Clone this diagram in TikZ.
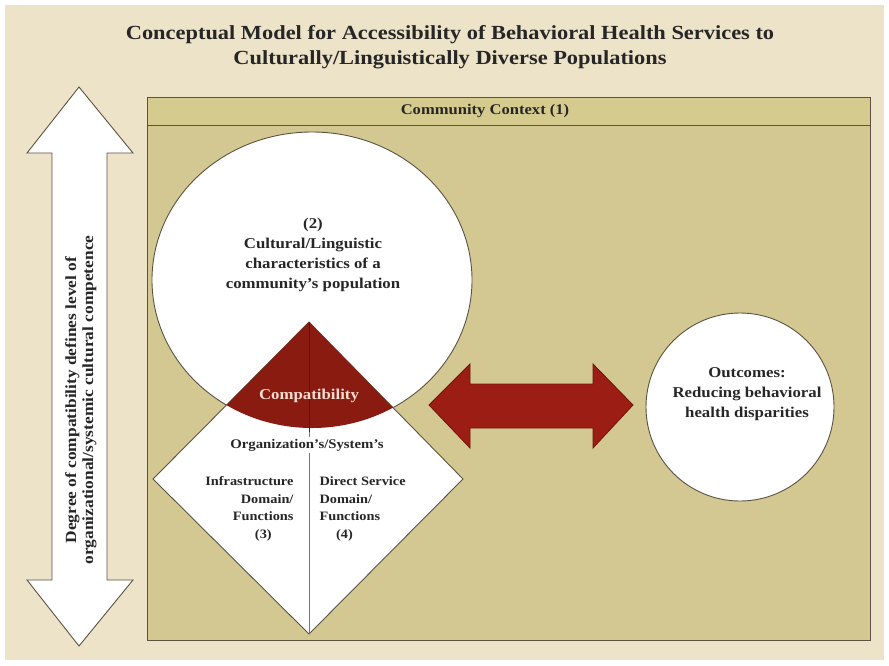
\documentclass[tikz,border=0pt]{standalone}
\usepackage{fontspec}
\setmainfont{Liberation Serif}[FakeStretch=1.12]
\usetikzlibrary{calc}

\definecolor{pagebeige}{HTML}{EDE3C8}
\definecolor{khaki}{HTML}{D3C891}
\definecolor{khakihead}{HTML}{D6CB8E}
\definecolor{compred}{HTML}{8A1B10}
\definecolor{arrowred}{HTML}{9C1D13}
\definecolor{edgegrey}{HTML}{5B5242}
\definecolor{inkgrey}{HTML}{262626}
\definecolor{palepink}{HTML}{F6DED2}

\tikzset{
  outline/.style={draw=edgegrey, line width=0.9pt},
  boldtext/.style={font=\bfseries, text=inkgrey, align=center},
  titletext/.style={boldtext, font=\fontsize{20}{25}\selectfont\bfseries},
  circletext/.style={boldtext, font=\fontsize{15}{20}\selectfont\bfseries},
  smalltext/.style={boldtext, font=\fontsize{12.8}{17.5}\selectfont\bfseries}
}

\begin{document}
\begin{tikzpicture}[x=1pt, y=-1pt]
            \useasboundingbox (0,0) rectangle (889,665);
            \fill[white] (0,0) rectangle (889,665);
            \fill[pagebeige] (5,5) rectangle (884,660);

            \node[titletext] (title) at (450,47) {Conceptual Model for Accessibility of Behavioral Health Services to\\Culturally/Linguistically Diverse Populations};

            % degree of compatibility arrow
            \filldraw[fill=white, outline] (79,87) -- (133,153) -- (107,153) -- (107,580) -- (133,580)
                -- (79,646) -- (27,580) -- (52,580) -- (52,153) -- (27,153) -- cycle;
            \node[smalltext, rotate=90, font=\fontsize{15.5}{17}\selectfont\bfseries] (degree) at (81,400)
                {Degree of compatibility defines level of\\organizational/systemic cultural competence};

            % community context box
            \filldraw[fill=khaki, outline] (147,97) rectangle (870,640);
            \filldraw[fill=khakihead, outline] (147,97) rectangle (870,125);
            \node[smalltext, font=\fontsize{14.8}{16}\selectfont\bfseries] (context) at (485,111) {Community Context (1)};

            % population circle and organization diamond
            \filldraw[fill=white, outline] (312,280) ellipse [x radius=160, y radius=148];
            \filldraw[fill=white, outline] (309,322) -- (463,479) -- (309,634) -- (153,479) -- cycle;
            \begin{scope}
              \clip (309,322) -- (463,479) -- (309,634) -- (153,479) -- cycle;
              \fill[compred] (312,280) ellipse [x radius=160, y radius=148];
            \end{scope}
            \draw[compred!70!black, line width=0.8pt] (309,322) -- (309,432);
            \draw[edgegrey!80, line width=0.9pt] (309,432) -- (309,634);

            \node[circletext] (population) at (313,255)
                {(2)\\Cultural/Linguistic\\characteristics of a\\community's population};
            \node[circletext, text=palepink] (compat) at (309,396) {Compatibility};
            \node[smalltext, fill=white, inner sep=2pt, font=\fontsize{13.2}{16}\selectfont\bfseries] (org) at (307,445) {Organization's/System's};
            \node[smalltext, align=right, anchor=east] (infra) at (297,509)
                {Infrastructure\\Domain/\\Functions\\(3)\rule{1.7em}{0pt}};
            \node[smalltext, align=left, anchor=west] (direct) at (316,509)
                {Direct Service\\Domain/\\Functions\\\hspace*{1.3em}(4)};

            % two way arrow
            \filldraw[fill=arrowred, draw=compred!80!black, line width=0.8pt] (429,405) -- (470,364) -- (470,384)
                -- (593,384) -- (593,364) -- (633,405) -- (593,448) -- (593,428) -- (470,428) -- (470,448) -- cycle;

            % outcomes
            \filldraw[fill=white, outline] (740,407) circle (94);
            \node[circletext] (outcomes) at (747,394)
                {Outcomes:\\Reducing behavioral\\health disparities};

        \end{tikzpicture}
\end{document}
